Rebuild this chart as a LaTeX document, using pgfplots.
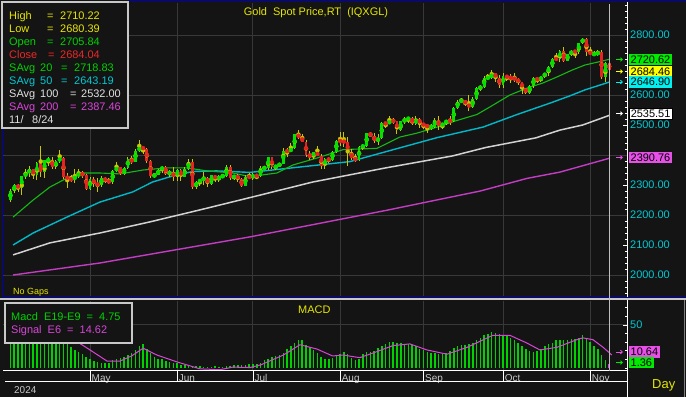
\documentclass[border=0pt]{standalone}
\usepackage{fontspec}
\setmainfont{Liberation Sans}
\usepackage{pgfplots}
\pgfplotsset{compat=1.18}
\usepackage{pgfplotstable}
\usetikzlibrary{arrows.meta}

\definecolor{bg}{RGB}{20,20,20}
\definecolor{gridc}{RGB}{56,56,56}
\definecolor{cgreen}{RGB}{0,225,0}
\definecolor{cred}{RGB}{230,35,35}
\definecolor{cwick}{RGB}{200,200,0}
\definecolor{ma20}{RGB}{20,185,20}
\definecolor{ma50}{RGB}{0,185,200}
\definecolor{ma100}{RGB}{210,210,210}
\definecolor{ma200}{RGB}{195,60,195}
\definecolor{tyellow}{RGB}{230,230,0}
\definecolor{tgreen}{RGB}{0,210,0}
\definecolor{tred}{RGB}{235,40,40}
\definecolor{tcyan}{RGB}{0,200,210}
\definecolor{tmag}{RGB}{215,70,215}
\definecolor{twhite}{RGB}{225,225,225}
\definecolor{fblue}{RGB}{0,0,185}
\definecolor{fgray}{RGB}{200,200,200}
\definecolor{cursor}{RGB}{190,190,190}
\definecolor{bgreen}{RGB}{0,235,0}
\definecolor{byellow}{RGB}{255,255,0}
\definecolor{bcyan}{RGB}{0,240,240}
\definecolor{bmag}{RGB}{230,80,230}

\pgfplotstableread{
n o h l c
1 2250 2288 2243 2280
2 2280 2305 2272 2300
3 2300 2305 2277 2290
4 2290 2331 2267 2329
5 2329 2354 2321 2339
6 2339 2365 2327 2352
7 2352 2355 2320 2333
8 2333 2378 2318 2373
9 2373 2431 2326 2344
10 2344 2384 2325 2383
11 2383 2392 2365 2383
12 2383 2395 2355 2361
13 2361 2385 2352 2379
14 2379 2418 2373 2391
15 2391 2395 2320 2327
16 2327 2341 2291 2322
17 2322 2335 2310 2316
18 2316 2352 2308 2332
19 2332 2353 2325 2337
20 2337 2347 2325 2335
21 2335 2338 2285 2286
22 2286 2326 2285 2320
23 2320 2326 2295 2303
24 2303 2324 2277 2301
25 2301 2331 2292 2323
26 2323 2327 2306 2314
27 2314 2325 2303 2309
28 2309 2351 2305 2346
29 2346 2378 2344 2360
30 2360 2361 2332 2336
31 2336 2360 2334 2358
32 2358 2392 2354 2386
33 2386 2398 2370 2377
34 2377 2419 2376 2415
35 2415 2450 2411 2425
36 2425 2427 2404 2421
37 2421 2424 2374 2379
38 2379 2385 2325 2329
39 2329 2340 2325 2334
40 2334 2352 2333 2351
41 2351 2364 2341 2360
42 2360 2362 2334 2338
43 2338 2351 2327 2343
44 2343 2360 2314 2327
45 2327 2354 2315 2350
46 2350 2353 2315 2327
47 2327 2359 2326 2355
48 2355 2388 2351 2376
49 2376 2388 2287 2293
50 2293 2315 2286 2311
51 2311 2320 2298 2316
52 2316 2342 2301 2324
53 2324 2327 2295 2303
54 2303 2335 2299 2333
55 2333 2334 2309 2319
56 2319 2335 2309 2329
57 2329 2336 2324 2329
58 2329 2366 2328 2360
59 2360 2368 2316 2322
60 2322 2335 2317 2334
61 2334 2337 2311 2319
62 2319 2324 2294 2298
63 2298 2332 2297 2327
64 2327 2340 2320 2326
65 2326 2339 2318 2332
66 2332 2335 2319 2330
67 2330 2365 2326 2356
68 2356 2364 2350 2356
69 2356 2393 2350 2392
70 2392 2393 2353 2359
71 2359 2368 2351 2364
72 2364 2375 2360 2371
73 2371 2425 2369 2415
74 2415 2424 2392 2411
75 2411 2440 2409 2422
76 2422 2469 2420 2469
77 2469 2483 2453 2459
78 2459 2470 2444 2445
79 2445 2449 2394 2400
80 2400 2412 2384 2396
81 2396 2410 2386 2409
82 2409 2431 2398 2398
83 2398 2402 2353 2365
84 2365 2389 2353 2387
85 2387 2393 2374 2384
86 2384 2414 2381 2411
87 2411 2451 2407 2447
88 2447 2477 2430 2446
89 2446 2477 2428 2443
90 2443 2460 2364 2409
91 2409 2420 2385 2390
92 2390 2403 2378 2382
93 2382 2431 2381 2427
94 2427 2437 2417 2431
95 2431 2474 2428 2472
96 2472 2477 2459 2465
97 2465 2472 2440 2447
98 2447 2470 2432 2456
99 2456 2509 2454 2507
100 2507 2510 2489 2504
101 2504 2531 2502 2514
102 2514 2525 2503 2512
103 2512 2514 2471 2484
104 2484 2513 2479 2512
105 2512 2526 2505 2518
106 2518 2528 2507 2525
107 2525 2526 2499 2504
108 2504 2529 2501 2521
109 2521 2524 2490 2503
110 2503 2505 2488 2500
111 2500 2505 2472 2493
112 2493 2504 2484 2495
113 2495 2523 2491 2516
114 2516 2529 2485 2497
115 2497 2506 2486 2506
116 2506 2518 2500 2516
117 2516 2529 2500 2512
118 2512 2560 2510 2558
119 2558 2585 2553 2578
120 2578 2590 2574 2582
121 2582 2584 2563 2570
122 2570 2600 2546 2559
123 2559 2593 2556 2587
124 2587 2626 2585 2622
125 2622 2634 2614 2628
126 2628 2664 2625 2657
127 2657 2671 2651 2657
128 2657 2685 2654 2672
129 2672 2674 2645 2658
130 2658 2666 2625 2634
131 2634 2673 2624 2663
132 2663 2666 2647 2659
133 2659 2670 2641 2656
134 2656 2673 2642 2653
135 2653 2657 2635 2643
136 2643 2645 2605 2622
137 2622 2625 2605 2608
138 2608 2633 2603 2630
139 2630 2661 2625 2657
140 2657 2660 2640 2649
141 2649 2663 2643 2662
142 2662 2675 2658 2674
143 2674 2696 2663 2692
144 2692 2722 2690 2721
145 2721 2740 2713 2719
146 2719 2749 2709 2748
147 2748 2759 2709 2715
148 2715 2737 2713 2736
149 2736 2750 2730 2747
150 2747 2748 2725 2743
151 2743 2775 2737 2774
152 2774 2790 2771 2788
153 2788 2790 2731 2744
154 2744 2760 2732 2736
155 2736 2746 2729 2736
156 2736 2750 2731 2742
157 2742 2750 2652 2659
158 2659 2710 2643 2706
159 2705.84 2710.22 2680.39 2684.04
}\ohlc

\pgfplotstableread{
n m
1 40
2 42
3 44
4 45
5 47
6 49
7 51
8 53
9 55
10 56
11 56
12 57
13 56
14 54
15 45
16 34
17 24
18 21
19 19
20 16
21 13
22 11
23 8
24 7
25 6
26 6
27 6
28 9
29 11
30 12
31 13
32 15
33 18
34 21
35 25
36 28
37 22
38 18
39 13
40 11
41 11
42 8
43 7
44 6
45 6
46 4
47 3
48 2
49 2
50 2
51 2
52 1
53 1
54 1
55 2
56 1
57 1
58 2
59 2
60 3
61 3
62 3
63 4
64 5
65 5
66 5
67 6
68 9
69 11
70 13
71 14
72 15
73 18
74 22
75 26
76 29
77 33
78 33
79 27
80 24
81 21
82 17
83 13
84 11
85 10
86 12
87 14
88 16
89 19
90 16
91 12
92 9
93 11
94 16
95 19
96 19
97 20
98 23
99 26
100 28
101 30
102 30
103 29
104 29
105 28
106 28
107 27
108 26
109 22
110 21
111 19
112 17
113 17
114 16
115 16
116 17
117 20
118 23
119 25
120 27
121 27
122 28
123 29
124 33
125 35
126 38
127 40
128 42
129 41
130 39
131 38
132 37
133 35
134 33
135 29
136 26
137 22
138 20
139 19
140 20
141 22
142 25
143 28
144 29
145 32
146 33
147 33
148 33
149 34
150 34
151 35
152 38
153 34
154 30
155 26
156 22
157 15
158 9
159 5
}\macd

\begin{document}
\begin{tikzpicture}[
  lab/.style={anchor=west, inner sep=0pt, text height=7.9bp, text depth=0pt, font=\fontsize{11}{13}\selectfont},
  pbox/.style={anchor=west, inner xsep=1.5bp, inner ysep=1.6bp, text height=7.9bp, text depth=0pt, font=\fontsize{11}{13}\selectfont, text=black}]
\useasboundingbox (0bp,0bp) rectangle (686bp,397bp);
\fill[bg] (0bp,0bp) rectangle (686bp,397bp);

% ---------------- price panel
\begin{axis}[
  at={(3bp,100bp)}, anchor=south west, scale only axis,
  width=624bp, height=294bp,
  xmin=-0.96, xmax=163.7, ymin=1926.67, ymax=2906.67,
  axis line style={draw=none},
  xtick={22,45,65,88,110,131,154}, xticklabels={},
  xtick style={draw=none},
  xmajorgrids,
  grid style={gridc, line width=1bp},
  ytick={2000,2100,2200,2300,2500,2600,2800},
  yticklabels={2000.00,2100.00,2200.00,2300.00,2500.00,2600.00,2800.00},
  ytick pos=right, yticklabel pos=right,
  minor ytick={1940,1960,...,2900},
  tick align=inside,
  tick style={white, line width=0.8bp},
  major tick length=4bp, minor tick length=2.5bp,
  yticklabel style={text=tcyan, anchor=west, inner sep=0pt, xshift=3bp, text height=7.9bp, text depth=0pt, font=\fontsize{11}{13}\selectfont},
  extra y ticks={2000,2200,2400,2600,2800},
  extra y tick labels={},
  extra y tick style={ymajorgrids=true, major tick length=0pt},
]
% moving averages
\addplot[ma200, line width=1.4bp] coordinates {(1.7,2000) (24.6,2040) (64.2,2127) (100,2215) (125,2280) (137.3,2322) (146,2343) (159,2389)};
\addplot[ma100, line width=1.5bp] coordinates {(1.7,2067) (11.4,2107) (24.6,2140) (37.8,2177) (51,2217) (64.2,2258) (80.8,2310) (100,2357) (117.7,2397) (126.4,2425) (139.6,2457) (146,2483) (152,2500) (159,2532)};
\addplot[ma50, line width=1.4bp] coordinates {(1.7,2100) (7,2140) (15.9,2193) (24.6,2243) (33.3,2277) (38.5,2310) (43.8,2330) (49.1,2345) (55.4,2347) (64.2,2342) (77.4,2360) (90.6,2378) (101.2,2415) (113.6,2458) (125.7,2493) (134.7,2535) (143.4,2573) (148.6,2597) (152.6,2617) (159,2643)};
\addplot[ma20, line width=1.1bp] coordinates {(1.7,2193) (7,2250) (11.4,2293) (15.9,2323) (19.4,2340) (24.6,2340) (29.9,2337) (36,2350) (42.3,2357) (47.6,2357) (52.9,2347) (59.7,2340) (64.2,2328) (71.3,2340) (75.6,2367) (81.9,2390) (88.8,2418) (93,2420) (97.7,2422) (103.8,2460) (108.3,2473) (113.6,2493) (118.8,2515) (124.1,2535) (127.5,2560) (132.8,2600) (137.3,2623) (141.5,2640) (145.2,2660) (149.2,2683) (152.6,2700) (157.1,2713) (159,2719)};
% wicks
\addplot[cwick, only marks, mark=none,
  error bars/.cd, y dir=both, y explicit, error mark=none,
  error bar style={line width=1bp, cwick}]
  table[x=n, y expr={(\thisrow{h}+\thisrow{l})/2}, y error expr={(\thisrow{h}-\thisrow{l})/2}] {\ohlc};
% up bodies
\addplot[cgreen, only marks, mark=none,
  restrict expr to domain={\thisrow{c}-\thisrow{o}}{0:100000},
  error bars/.cd, y dir=both, y explicit, error mark=none,
  error bar style={line width=2.8bp, cgreen}]
  table[x=n, y expr={(\thisrow{o}+\thisrow{c})/2}, y error expr={max(abs(\thisrow{c}-\thisrow{o})/2,1.5)}] {\ohlc};
% down bodies
\addplot[cred, only marks, mark=none,
  restrict expr to domain={\thisrow{c}-\thisrow{o}}{-100000:-0.001},
  error bars/.cd, y dir=both, y explicit, error mark=none,
  error bar style={line width=2.8bp, cred}]
  table[x=n, y expr={(\thisrow{o}+\thisrow{c})/2}, y error expr={max(abs(\thisrow{c}-\thisrow{o})/2,1.5)}] {\ohlc};
\end{axis}

% ---------------- MACD panel
\begin{axis}[
  at={(3bp,26bp)}, anchor=south west, scale only axis,
  width=624bp, height=70bp,
  xmin=-0.96, xmax=163.7, ymin=-3.5, ymax=77.9,
  axis line style={draw=none},
  xtick={22,45,65,88,110,131,154},
  xticklabels={May,Jun,Jul,Aug,Sep,Oct,Nov},
  xtick style={draw=none},
  xticklabel style={anchor=west, inner sep=0pt, xshift=1.5bp, yshift=-7bp, text=fgray, text height=7.2bp, text depth=0pt, font=\fontsize{10}{12}\selectfont},
  xmajorgrids, ymajorgrids,
  grid style={gridc, line width=1bp},
  ytick={50}, yticklabels={50},
  ytick pos=right, yticklabel pos=right,
  minor ytick={0,10,20,30,40,60,70},
  tick align=inside,
  tick style={white, line width=0.8bp},
  major tick length=4bp, minor tick length=2.5bp,
  yticklabel style={text=tcyan, anchor=west, inner sep=0pt, xshift=3bp, text height=7.9bp, text depth=0pt, font=\fontsize{11}{13}\selectfont},
]
\addplot[ycomb, tgreen, line width=1.5bp, restrict x to domain=0:158.5] table[x=n, y=m] {\macd};
\addplot[ycomb, tmag, line width=1.5bp, restrict x to domain=158.5:160] table[x=n, y=m] {\macd};
\addplot[tmag, line width=1bp] coordinates {(1,42) (5,46) (10,52) (14,53) (17,40) (18.8,30) (22,21) (26.5,8) (29.9,8) (33,14) (36,23) (39.7,15) (45,7) (51,-1) (56.3,-2) (59.7,1) (64.2,0.5) (67,3.5) (73,15) (77.4,27) (81.9,22) (86,14) (88.8,15) (93.2,12) (97.7,19) (101.9,26) (106.4,28) (110.9,21) (116.2,16) (121.5,24) (128.3,38) (132.8,38) (137.3,29) (140.7,21) (145.2,24) (150.5,33) (152,35) (154.7,33) (157.4,24) (158.7,19) (159.7,15)};
\end{axis}

% ---------------- frames and annotations
\begin{scope}[x=1bp,y=1bp]
\draw[fblue, line width=1.6bp] (2.5,100.5) -- (2.5,395.5) -- (686,395.5);
\draw[fblue, line width=1.6bp] (2,100.5) -- (686,100.5);
\draw[fgray, line width=1.5bp] (0,98) -- (686,98);
\draw[white, line width=1bp] (627,100) -- (627,395);
\draw[white, line width=1bp] (627,0) -- (627,97);
\draw[white, line width=1bp] (3,26) -- (627,26);
\draw[white, line width=1bp] (5,15) -- (627,15);
\foreach \p in {90.0,177.2,253.0,340.1,423.5,503.1,590.2} \draw[white, line width=1bp] (\p,26) -- (\p,15);
\draw[gray, line width=1bp] (684.5,0) -- (684.5,97);
\draw[cursor, line width=1.2bp] (609.2,26) -- (609.2,393);

% top-left legend
\filldraw[fill=bg, draw=fgray, line width=2bp] (2,395) rectangle (128,269);
\node[lab, text=tyellow] at (9,381.3) {High};
\node[lab, text=tyellow] at (47,381.3) {=};
\node[lab, text=tyellow] at (60,381.3) {2710.22};
\node[lab, text=tyellow] at (9,368.3) {Low};
\node[lab, text=tyellow] at (47,368.3) {=};
\node[lab, text=tyellow] at (60,368.3) {2680.39};
\node[lab, text=tgreen] at (9,355.2) {Open};
\node[lab, text=tgreen] at (47,355.2) {=};
\node[lab, text=tgreen] at (60,355.2) {2705.84};
\node[lab, text=tred] at (9,342.2) {Close};
\node[lab, text=tred] at (48,342.2) {=};
\node[lab, text=tred] at (60,342.2) {2684.04};
\node[lab, text=tgreen] at (9,329.1) {SAvg};
\node[lab, text=tgreen] at (40,329.1) {20};
\node[lab, text=tgreen] at (61,329.1) {=};
\node[lab, text=tgreen] at (74,329.1) {2718.83};
\node[lab, text=tcyan] at (9,316.1) {SAvg};
\node[lab, text=tcyan] at (40,316.1) {50};
\node[lab, text=tcyan] at (61,316.1) {=};
\node[lab, text=tcyan] at (74,316.1) {2643.19};
\node[lab, text=twhite] at (9,303.1) {SAvg};
\node[lab, text=twhite] at (40,303.1) {100};
\node[lab, text=twhite] at (70,303.1) {=};
\node[lab, text=twhite] at (81,303.1) {2532.00};
\node[lab, text=tmag] at (9,290) {SAvg};
\node[lab, text=tmag] at (40,290) {200};
\node[lab, text=tmag] at (70,290) {=};
\node[lab, text=tmag] at (81,290) {2387.46};
\node[lab, text=twhite] at (9,277) {11/};
\node[lab, text=twhite] at (32,277) {8/24};

% MACD legend
\filldraw[fill=bg, draw=fgray, line width=2bp] (5,94) rectangle (132,54);
\node[lab, text=tgreen] at (11,80.5) {Macd~~E19-E9~~=~~4.75};
\node[lab, text=tmag] at (11,67) {Signal~~E6~~=~~14.62};

% titles and small texts
\node[lab, anchor=center, text=tyellow] at (316,385) {Gold~~Spot Price,RT~~(IQXGL)};
\node[lab, text=tyellow, font=\fontsize{9}{11}\selectfont, text height=6.5bp] at (13,106) {No Gaps};
\node[lab, text=tyellow] at (298,87) {MACD};
\node[lab, text=fgray, font=\fontsize{10}{12}\selectfont, text height=7.2bp] at (14,7) {2024};
\node[lab, text=tyellow, font=\fontsize{13}{15}\selectfont, text height=9.3bp] at (652,13.5) {Day};

% right-side value boxes
\draw[-{Straight Barb[length=2bp,width=3.5bp]}, bgreen, line width=0.8bp] (616,337.5) -- (623,337.5);
\node[pbox, fill=bgreen] at (629,337.5) {2720.62};
\draw[-{Straight Barb[length=2bp,width=3.5bp]}, byellow, line width=0.8bp] (616,325.5) -- (623,325.5);
\node[pbox, fill=byellow] at (629,325.5) {2684.46};
\draw[-{Straight Barb[length=2bp,width=3.5bp]}, bcyan, line width=0.8bp] (616,315) -- (623,315);
\node[pbox, fill=bcyan] at (629,315) {2646.90};
\draw[-{Straight Barb[length=2bp,width=3.5bp]}, white, line width=0.8bp] (616,283.5) -- (623,283.5);
\node[pbox, fill=white, draw=black, line width=0.6bp] at (629,283.5) {2535.51};
\draw[-{Straight Barb[length=2bp,width=3.5bp]}, bmag, line width=0.8bp] (616,239.5) -- (623,239.5);
\node[pbox, fill=bmag] at (629,239.5) {2390.76};
\draw[-{Straight Barb[length=2bp,width=3.5bp]}, bmag, line width=0.8bp] (616,45) -- (623,45);
\node[pbox, fill=bmag] at (629,45) {10.64};
\draw[-{Straight Barb[length=2bp,width=3.5bp]}, bgreen, line width=0.8bp] (616,34.5) -- (623,34.5);
\node[pbox, fill=bgreen] at (629,34.5) {1.36};
\end{scope}
\end{tikzpicture}
\end{document}
